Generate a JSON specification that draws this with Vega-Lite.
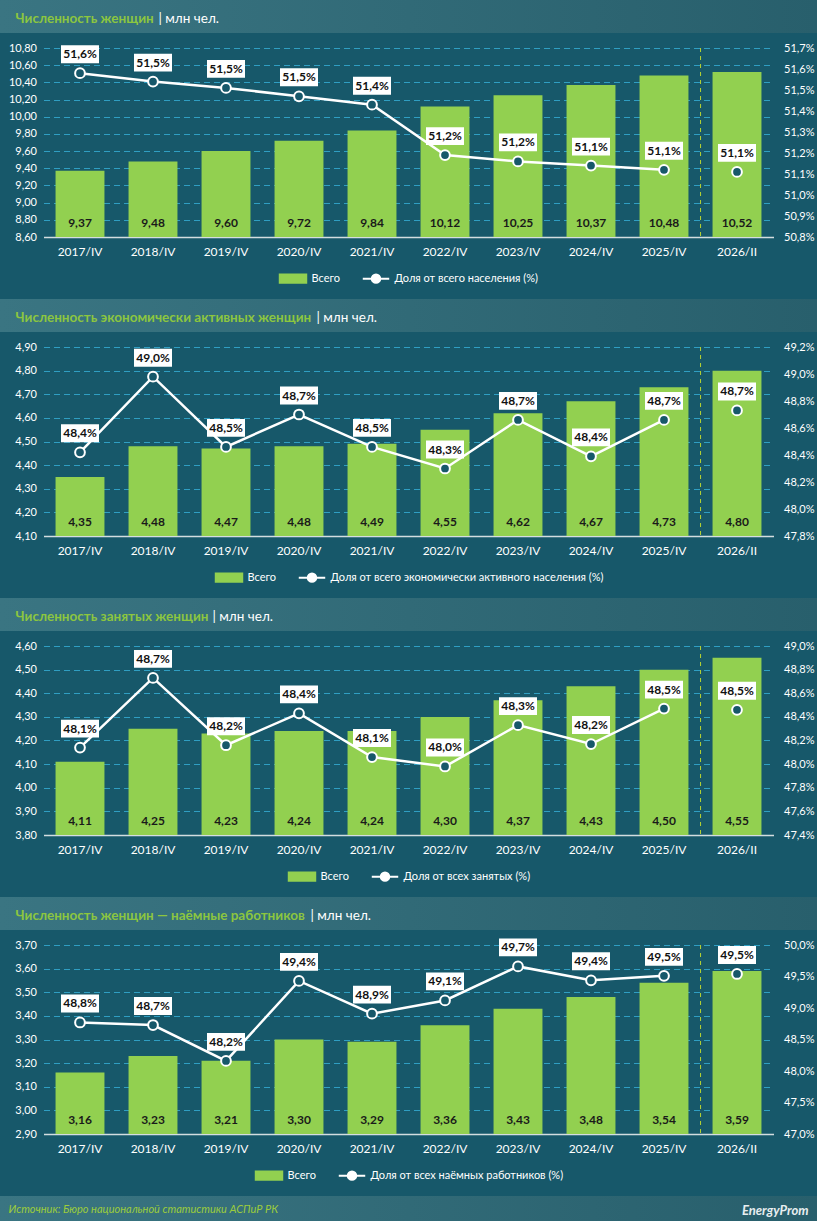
{
  "$schema": "https://vega.github.io/schema/vega-lite/v6.json",
  "background": "#17586a",
  "padding": 0,
  "bounds": "flush",
  "center": true,
  "spacing": 15,
  "datasets": {
    "p1": [
      {"period": "2017/IV", "total": 9.37, "share": 0.5158},
      {"period": "2018/IV", "total": 9.48, "share": 0.5154},
      {"period": "2019/IV", "total": 9.60, "share": 0.5151},
      {"period": "2020/IV", "total": 9.72, "share": 0.5147},
      {"period": "2021/IV", "total": 9.84, "share": 0.5143},
      {"period": "2022/IV", "total": 10.12, "share": 0.5119},
      {"period": "2023/IV", "total": 10.25, "share": 0.5116},
      {"period": "2024/IV", "total": 10.37, "share": 0.5114},
      {"period": "2025/IV", "total": 10.48, "share": 0.5112},
      {"period": "2026/II", "total": 10.52, "share": 0.5111}
    ],
    "p2": [
      {"period": "2017/IV", "total": 4.35, "share": 0.4842},
      {"period": "2018/IV", "total": 4.48, "share": 0.4898},
      {"period": "2019/IV", "total": 4.47, "share": 0.4846},
      {"period": "2020/IV", "total": 4.48, "share": 0.4870},
      {"period": "2021/IV", "total": 4.49, "share": 0.4846},
      {"period": "2022/IV", "total": 4.55, "share": 0.4830},
      {"period": "2023/IV", "total": 4.62, "share": 0.4866},
      {"period": "2024/IV", "total": 4.67, "share": 0.4839},
      {"period": "2025/IV", "total": 4.73, "share": 0.4866},
      {"period": "2026/II", "total": 4.80, "share": 0.4873}
    ],
    "p3": [
      {"period": "2017/IV", "total": 4.11, "share": 0.4814},
      {"period": "2018/IV", "total": 4.25, "share": 0.4873},
      {"period": "2019/IV", "total": 4.23, "share": 0.4816},
      {"period": "2020/IV", "total": 4.24, "share": 0.4843},
      {"period": "2021/IV", "total": 4.24, "share": 0.4806},
      {"period": "2022/IV", "total": 4.30, "share": 0.4798},
      {"period": "2023/IV", "total": 4.37, "share": 0.4833},
      {"period": "2024/IV", "total": 4.43, "share": 0.4817},
      {"period": "2025/IV", "total": 4.50, "share": 0.4847},
      {"period": "2026/II", "total": 4.55, "share": 0.4846}
    ],
    "p4": [
      {"period": "2017/IV", "total": 3.16, "share": 0.4877},
      {"period": "2018/IV", "total": 3.23, "share": 0.4873},
      {"period": "2019/IV", "total": 3.21, "share": 0.4816},
      {"period": "2020/IV", "total": 3.30, "share": 0.4943},
      {"period": "2021/IV", "total": 3.29, "share": 0.4891},
      {"period": "2022/IV", "total": 3.36, "share": 0.4912},
      {"period": "2023/IV", "total": 3.43, "share": 0.4966},
      {"period": "2024/IV", "total": 3.48, "share": 0.4944},
      {"period": "2025/IV", "total": 3.54, "share": 0.4951},
      {"period": "2026/II", "total": 3.59, "share": 0.4954}
    ]
  },
  "vconcat": [
    {
      "width": 817, "height": 33,
      "view": {"fill": {"gradient": "linear", "x1": 0, "x2": 1, "y1": 0, "y2": 0, "stops": [{"offset": 0, "color": "#3a7582"}, {"offset": 1, "color": "#285f6c"}]}, "stroke": null},
      "data": {"values": [{}]},
      "mark": {"type": "text", "text": ""},
      "encoding": {
        "x": {"datum": 0, "type": "quantitative", "scale": {"domain": [-1, 1]}, "axis": {"orient": "top", "title": "| млн чел.", "titleX": 158, "titleY": 22, "titleAlign": "left", "titleBaseline": "alphabetic", "titleColor": "#ffffff", "titleFontSize": 13.5, "titleFontWeight": "normal", "labels": false, "ticks": false, "domain": false, "grid": false}},
        "y": {"datum": 0, "type": "quantitative", "scale": {"domain": [-1, 1]}, "axis": {"orient": "left", "title": "Численность женщин", "titleAngle": 0, "titleX": 15, "titleY": 22, "titleAlign": "left", "titleBaseline": "alphabetic", "titleColor": "#8cc63f", "titleFontSize": 13.5, "titleFontWeight": "bold", "labels": false, "ticks": false, "domain": false, "grid": false}}
      }
    },
    {
      "width": 730, "height": 189,
      "data": {"name": "p1"},
      "encoding": {"x": {"field": "period", "type": "nominal", "sort": null, "scale": {"paddingInner": 0.33, "paddingOuter": 0.165}, "axis": {"title": null, "labelAngle": 0, "ticks": false, "grid": false, "domainColor": "#d3dde0", "domainWidth": 1.5, "labelColor": "#ffffff", "labelFontSize": 12, "labelPadding": 9}}},
      "layer": [
        {
          "layer": [
            {
              "mark": {"type": "bar", "clip": true},
              "encoding": {
                "y": {"field": "total", "type": "quantitative", "scale": {"domain": [8.6, 10.8], "zero": false}, "axis": {"orient": "left", "values": [8.6, 8.8, 9, 9.2, 9.4, 9.6, 9.8, 10, 10.2, 10.4, 10.6, 10.8], "tickCount": 20, "labelOverlap": false, "format": ".2f", "title": null, "domain": false, "ticks": false, "grid": true, "gridColor": "#2f9ec2", "gridDash": [6, 4], "labelColor": "#ffffff", "labelFontSize": 11, "labelPadding": 7}},
                "color": {"datum": "Всего", "type": "nominal", "scale": {"domain": ["Всего", "Доля от всего населения (%)"], "range": ["#92d050", "#ffffff"]},
                  "legend": {"orient": "bottom", "direction": "horizontal", "title": null, "offset": 7, "labelColor": "#ffffff", "labelFontSize": 11, "labelLimit": 600, "symbolSize": 700, "columnPadding": 18, "labelOffset": 4,
                    "encode": {"symbols": {"update": {
                      "shape": {"signal": "datum.value === 'Всего' ? 'M-1,-0.32H1V0.32H-1Z' : 'M-1,0H-0.32M0.32,0H1M0.32,0A0.32,0.32,0,1,1,-0.32,0A0.32,0.32,0,1,1,0.32,0Z'"},
                      "fill": {"signal": "datum.value === 'Всего' ? '#92d050' : '#17586a'"},
                      "stroke": {"signal": "datum.value === 'Всего' ? 'transparent' : '#ffffff'"},
                      "strokeWidth": {"value": 2},
                      "opacity": {"value": 1}}}}}}
              }
            },
            {
              "mark": {"type": "text", "yOffset": -14, "baseline": "middle", "fontWeight": "bold", "fontSize": 12, "color": "#1a1a1a"},
              "encoding": {"y": {"datum": 8.6, "type": "quantitative"}, "text": {"field": "total", "type": "quantitative", "format": ".2f"}}
            },
            {
              "transform": [{"filter": "datum.period === '2026/II'"}],
              "mark": {"type": "rule", "color": "#b8d432", "strokeDash": [4, 4], "strokeWidth": 1},
              "encoding": {"x": {"field": "period", "type": "nominal", "bandPosition": -0.245}}
            }
          ]
        },
        {
          "layer": [
            {
              "transform": [{"filter": "datum.period !== '2026/II'"}],
              "mark": {"type": "line", "strokeWidth": 2.5},
              "encoding": {
                "y": {"field": "share", "type": "quantitative", "scale": {"domain": [0.508, 0.517], "zero": false}, "axis": {"orient": "right", "values": [0.508, 0.509, 0.51, 0.511, 0.512, 0.513, 0.514, 0.515, 0.516, 0.517], "tickCount": 20, "labelOverlap": false, "format": ".1%", "title": null, "domain": false, "ticks": false, "grid": false, "labelColor": "#ffffff", "labelFontSize": 11, "labelPadding": 10}},
                "color": {"datum": "Доля от всего населения (%)", "type": "nominal"}
              }
            },
            {
              "mark": {"type": "point", "filled": false, "fill": "#17586a", "strokeWidth": 2, "size": 95, "opacity": 1},
              "encoding": {"y": {"field": "share", "type": "quantitative"}, "color": {"datum": "Доля от всего населения (%)", "type": "nominal"}}
            },
            {
              "mark": {"type": "point", "shape": "M-1,-0.47H1V0.47H-1Z", "size": 1444, "filled": true, "fill": "#ffffff", "opacity": 1, "yOffset": -19},
              "encoding": {"y": {"field": "share", "type": "quantitative"}}
            },
            {
              "mark": {"type": "text", "yOffset": -19, "baseline": "middle", "fontWeight": "bold", "fontSize": 12, "color": "#111111"},
              "encoding": {"y": {"field": "share", "type": "quantitative"}, "text": {"field": "share", "type": "quantitative", "format": ".1%"}}
            }
          ]
        }
      ],
      "resolve": {"scale": {"y": "independent"}}
    },
    {"width": 817, "height": 32, "data": {"values": [{}]}, "mark": {"type": "text", "text": ""}},
    {
      "width": 817, "height": 33,
      "view": {"fill": {"gradient": "linear", "x1": 0, "x2": 1, "y1": 0, "y2": 0, "stops": [{"offset": 0, "color": "#3a7582"}, {"offset": 1, "color": "#285f6c"}]}, "stroke": null},
      "data": {"values": [{}]},
      "mark": {"type": "text", "text": ""},
      "encoding": {
        "x": {"datum": 0, "type": "quantitative", "scale": {"domain": [-1, 1]}, "axis": {"orient": "top", "title": "| млн чел.", "titleX": 316, "titleY": 22, "titleAlign": "left", "titleBaseline": "alphabetic", "titleColor": "#ffffff", "titleFontSize": 13.5, "titleFontWeight": "normal", "labels": false, "ticks": false, "domain": false, "grid": false}},
        "y": {"datum": 0, "type": "quantitative", "scale": {"domain": [-1, 1]}, "axis": {"orient": "left", "title": "Численность экономически активных женщин", "titleAngle": 0, "titleX": 15, "titleY": 22, "titleAlign": "left", "titleBaseline": "alphabetic", "titleColor": "#8cc63f", "titleFontSize": 13.5, "titleFontWeight": "bold", "labels": false, "ticks": false, "domain": false, "grid": false}}
      }
    },
    {
      "width": 730, "height": 189,
      "data": {"name": "p2"},
      "encoding": {"x": {"field": "period", "type": "nominal", "sort": null, "scale": {"paddingInner": 0.33, "paddingOuter": 0.165}, "axis": {"title": null, "labelAngle": 0, "ticks": false, "grid": false, "domainColor": "#d3dde0", "domainWidth": 1.5, "labelColor": "#ffffff", "labelFontSize": 12, "labelPadding": 9}}},
      "layer": [
        {
          "layer": [
            {
              "mark": {"type": "bar", "clip": true},
              "encoding": {
                "y": {"field": "total", "type": "quantitative", "scale": {"domain": [4.1, 4.9], "zero": false}, "axis": {"orient": "left", "values": [4.1, 4.2, 4.3, 4.4, 4.5, 4.6, 4.7, 4.8, 4.9], "tickCount": 20, "labelOverlap": false, "format": ".2f", "title": null, "domain": false, "ticks": false, "grid": true, "gridColor": "#2f9ec2", "gridDash": [6, 4], "labelColor": "#ffffff", "labelFontSize": 11, "labelPadding": 7}},
                "color": {"datum": "Всего", "type": "nominal", "scale": {"domain": ["Всего", "Доля от всего экономически активного населения (%)"], "range": ["#92d050", "#ffffff"]},
                  "legend": {"orient": "bottom", "direction": "horizontal", "title": null, "offset": 7, "labelColor": "#ffffff", "labelFontSize": 11, "labelLimit": 600, "symbolSize": 700, "columnPadding": 18, "labelOffset": 4,
                    "encode": {"symbols": {"update": {
                      "shape": {"signal": "datum.value === 'Всего' ? 'M-1,-0.32H1V0.32H-1Z' : 'M-1,0H-0.32M0.32,0H1M0.32,0A0.32,0.32,0,1,1,-0.32,0A0.32,0.32,0,1,1,0.32,0Z'"},
                      "fill": {"signal": "datum.value === 'Всего' ? '#92d050' : '#17586a'"},
                      "stroke": {"signal": "datum.value === 'Всего' ? 'transparent' : '#ffffff'"},
                      "strokeWidth": {"value": 2},
                      "opacity": {"value": 1}}}}}}
              }
            },
            {
              "mark": {"type": "text", "yOffset": -14, "baseline": "middle", "fontWeight": "bold", "fontSize": 12, "color": "#1a1a1a"},
              "encoding": {"y": {"datum": 4.1, "type": "quantitative"}, "text": {"field": "total", "type": "quantitative", "format": ".2f"}}
            },
            {
              "transform": [{"filter": "datum.period === '2026/II'"}],
              "mark": {"type": "rule", "color": "#b8d432", "strokeDash": [4, 4], "strokeWidth": 1},
              "encoding": {"x": {"field": "period", "type": "nominal", "bandPosition": -0.245}}
            }
          ]
        },
        {
          "layer": [
            {
              "transform": [{"filter": "datum.period !== '2026/II'"}],
              "mark": {"type": "line", "strokeWidth": 2.5},
              "encoding": {
                "y": {"field": "share", "type": "quantitative", "scale": {"domain": [0.478, 0.492], "zero": false}, "axis": {"orient": "right", "values": [0.478, 0.48, 0.482, 0.484, 0.486, 0.488, 0.49, 0.492], "tickCount": 20, "labelOverlap": false, "format": ".1%", "title": null, "domain": false, "ticks": false, "grid": false, "labelColor": "#ffffff", "labelFontSize": 11, "labelPadding": 10}},
                "color": {"datum": "Доля от всего экономически активного населения (%)", "type": "nominal"}
              }
            },
            {
              "mark": {"type": "point", "filled": false, "fill": "#17586a", "strokeWidth": 2, "size": 95, "opacity": 1},
              "encoding": {"y": {"field": "share", "type": "quantitative"}, "color": {"datum": "Доля от всего экономически активного населения (%)", "type": "nominal"}}
            },
            {
              "mark": {"type": "point", "shape": "M-1,-0.47H1V0.47H-1Z", "size": 1444, "filled": true, "fill": "#ffffff", "opacity": 1, "yOffset": -19},
              "encoding": {"y": {"field": "share", "type": "quantitative"}}
            },
            {
              "mark": {"type": "text", "yOffset": -19, "baseline": "middle", "fontWeight": "bold", "fontSize": 12, "color": "#111111"},
              "encoding": {"y": {"field": "share", "type": "quantitative"}, "text": {"field": "share", "type": "quantitative", "format": ".1%"}}
            }
          ]
        }
      ],
      "resolve": {"scale": {"y": "independent"}}
    },
    {"width": 817, "height": 32, "data": {"values": [{}]}, "mark": {"type": "text", "text": ""}},
    {
      "width": 817, "height": 33,
      "view": {"fill": {"gradient": "linear", "x1": 0, "x2": 1, "y1": 0, "y2": 0, "stops": [{"offset": 0, "color": "#3a7582"}, {"offset": 1, "color": "#285f6c"}]}, "stroke": null},
      "data": {"values": [{}]},
      "mark": {"type": "text", "text": ""},
      "encoding": {
        "x": {"datum": 0, "type": "quantitative", "scale": {"domain": [-1, 1]}, "axis": {"orient": "top", "title": "| млн чел.", "titleX": 212, "titleY": 22, "titleAlign": "left", "titleBaseline": "alphabetic", "titleColor": "#ffffff", "titleFontSize": 13.5, "titleFontWeight": "normal", "labels": false, "ticks": false, "domain": false, "grid": false}},
        "y": {"datum": 0, "type": "quantitative", "scale": {"domain": [-1, 1]}, "axis": {"orient": "left", "title": "Численность занятых женщин", "titleAngle": 0, "titleX": 15, "titleY": 22, "titleAlign": "left", "titleBaseline": "alphabetic", "titleColor": "#8cc63f", "titleFontSize": 13.5, "titleFontWeight": "bold", "labels": false, "ticks": false, "domain": false, "grid": false}}
      }
    },
    {
      "width": 730, "height": 189,
      "data": {"name": "p3"},
      "encoding": {"x": {"field": "period", "type": "nominal", "sort": null, "scale": {"paddingInner": 0.33, "paddingOuter": 0.165}, "axis": {"title": null, "labelAngle": 0, "ticks": false, "grid": false, "domainColor": "#d3dde0", "domainWidth": 1.5, "labelColor": "#ffffff", "labelFontSize": 12, "labelPadding": 9}}},
      "layer": [
        {
          "layer": [
            {
              "mark": {"type": "bar", "clip": true},
              "encoding": {
                "y": {"field": "total", "type": "quantitative", "scale": {"domain": [3.8, 4.6], "zero": false}, "axis": {"orient": "left", "values": [3.8, 3.9, 4, 4.1, 4.2, 4.3, 4.4, 4.5, 4.6], "tickCount": 20, "labelOverlap": false, "format": ".2f", "title": null, "domain": false, "ticks": false, "grid": true, "gridColor": "#2f9ec2", "gridDash": [6, 4], "labelColor": "#ffffff", "labelFontSize": 11, "labelPadding": 7}},
                "color": {"datum": "Всего", "type": "nominal", "scale": {"domain": ["Всего", "Доля от всех занятых (%)"], "range": ["#92d050", "#ffffff"]},
                  "legend": {"orient": "bottom", "direction": "horizontal", "title": null, "offset": 7, "labelColor": "#ffffff", "labelFontSize": 11, "labelLimit": 600, "symbolSize": 700, "columnPadding": 18, "labelOffset": 4,
                    "encode": {"symbols": {"update": {
                      "shape": {"signal": "datum.value === 'Всего' ? 'M-1,-0.32H1V0.32H-1Z' : 'M-1,0H-0.32M0.32,0H1M0.32,0A0.32,0.32,0,1,1,-0.32,0A0.32,0.32,0,1,1,0.32,0Z'"},
                      "fill": {"signal": "datum.value === 'Всего' ? '#92d050' : '#17586a'"},
                      "stroke": {"signal": "datum.value === 'Всего' ? 'transparent' : '#ffffff'"},
                      "strokeWidth": {"value": 2},
                      "opacity": {"value": 1}}}}}}
              }
            },
            {
              "mark": {"type": "text", "yOffset": -14, "baseline": "middle", "fontWeight": "bold", "fontSize": 12, "color": "#1a1a1a"},
              "encoding": {"y": {"datum": 3.8, "type": "quantitative"}, "text": {"field": "total", "type": "quantitative", "format": ".2f"}}
            },
            {
              "transform": [{"filter": "datum.period === '2026/II'"}],
              "mark": {"type": "rule", "color": "#b8d432", "strokeDash": [4, 4], "strokeWidth": 1},
              "encoding": {"x": {"field": "period", "type": "nominal", "bandPosition": -0.245}}
            }
          ]
        },
        {
          "layer": [
            {
              "transform": [{"filter": "datum.period !== '2026/II'"}],
              "mark": {"type": "line", "strokeWidth": 2.5},
              "encoding": {
                "y": {"field": "share", "type": "quantitative", "scale": {"domain": [0.474, 0.49], "zero": false}, "axis": {"orient": "right", "values": [0.474, 0.476, 0.478, 0.48, 0.482, 0.484, 0.486, 0.488, 0.49], "tickCount": 20, "labelOverlap": false, "format": ".1%", "title": null, "domain": false, "ticks": false, "grid": false, "labelColor": "#ffffff", "labelFontSize": 11, "labelPadding": 10}},
                "color": {"datum": "Доля от всех занятых (%)", "type": "nominal"}
              }
            },
            {
              "mark": {"type": "point", "filled": false, "fill": "#17586a", "strokeWidth": 2, "size": 95, "opacity": 1},
              "encoding": {"y": {"field": "share", "type": "quantitative"}, "color": {"datum": "Доля от всех занятых (%)", "type": "nominal"}}
            },
            {
              "mark": {"type": "point", "shape": "M-1,-0.47H1V0.47H-1Z", "size": 1444, "filled": true, "fill": "#ffffff", "opacity": 1, "yOffset": -19},
              "encoding": {"y": {"field": "share", "type": "quantitative"}}
            },
            {
              "mark": {"type": "text", "yOffset": -19, "baseline": "middle", "fontWeight": "bold", "fontSize": 12, "color": "#111111"},
              "encoding": {"y": {"field": "share", "type": "quantitative"}, "text": {"field": "share", "type": "quantitative", "format": ".1%"}}
            }
          ]
        }
      ],
      "resolve": {"scale": {"y": "independent"}}
    },
    {"width": 817, "height": 32, "data": {"values": [{}]}, "mark": {"type": "text", "text": ""}},
    {
      "width": 817, "height": 33,
      "view": {"fill": {"gradient": "linear", "x1": 0, "x2": 1, "y1": 0, "y2": 0, "stops": [{"offset": 0, "color": "#3a7582"}, {"offset": 1, "color": "#285f6c"}]}, "stroke": null},
      "data": {"values": [{}]},
      "mark": {"type": "text", "text": ""},
      "encoding": {
        "x": {"datum": 0, "type": "quantitative", "scale": {"domain": [-1, 1]}, "axis": {"orient": "top", "title": "| млн чел.", "titleX": 310, "titleY": 22, "titleAlign": "left", "titleBaseline": "alphabetic", "titleColor": "#ffffff", "titleFontSize": 13.5, "titleFontWeight": "normal", "labels": false, "ticks": false, "domain": false, "grid": false}},
        "y": {"datum": 0, "type": "quantitative", "scale": {"domain": [-1, 1]}, "axis": {"orient": "left", "title": "Численность женщин — наёмные работников", "titleAngle": 0, "titleX": 15, "titleY": 22, "titleAlign": "left", "titleBaseline": "alphabetic", "titleColor": "#8cc63f", "titleFontSize": 13.5, "titleFontWeight": "bold", "labels": false, "ticks": false, "domain": false, "grid": false}}
      }
    },
    {
      "width": 730, "height": 189,
      "data": {"name": "p4"},
      "encoding": {"x": {"field": "period", "type": "nominal", "sort": null, "scale": {"paddingInner": 0.33, "paddingOuter": 0.165}, "axis": {"title": null, "labelAngle": 0, "ticks": false, "grid": false, "domainColor": "#d3dde0", "domainWidth": 1.5, "labelColor": "#ffffff", "labelFontSize": 12, "labelPadding": 9}}},
      "layer": [
        {
          "layer": [
            {
              "mark": {"type": "bar", "clip": true},
              "encoding": {
                "y": {"field": "total", "type": "quantitative", "scale": {"domain": [2.9, 3.7], "zero": false}, "axis": {"orient": "left", "values": [2.9, 3, 3.1, 3.2, 3.3, 3.4, 3.5, 3.6, 3.7], "tickCount": 20, "labelOverlap": false, "format": ".2f", "title": null, "domain": false, "ticks": false, "grid": true, "gridColor": "#2f9ec2", "gridDash": [6, 4], "labelColor": "#ffffff", "labelFontSize": 11, "labelPadding": 7}},
                "color": {"datum": "Всего", "type": "nominal", "scale": {"domain": ["Всего", "Доля от всех наёмных работников (%)"], "range": ["#92d050", "#ffffff"]},
                  "legend": {"orient": "bottom", "direction": "horizontal", "title": null, "offset": 7, "labelColor": "#ffffff", "labelFontSize": 11, "labelLimit": 600, "symbolSize": 700, "columnPadding": 18, "labelOffset": 4,
                    "encode": {"symbols": {"update": {
                      "shape": {"signal": "datum.value === 'Всего' ? 'M-1,-0.32H1V0.32H-1Z' : 'M-1,0H-0.32M0.32,0H1M0.32,0A0.32,0.32,0,1,1,-0.32,0A0.32,0.32,0,1,1,0.32,0Z'"},
                      "fill": {"signal": "datum.value === 'Всего' ? '#92d050' : '#17586a'"},
                      "stroke": {"signal": "datum.value === 'Всего' ? 'transparent' : '#ffffff'"},
                      "strokeWidth": {"value": 2},
                      "opacity": {"value": 1}}}}}}
              }
            },
            {
              "mark": {"type": "text", "yOffset": -14, "baseline": "middle", "fontWeight": "bold", "fontSize": 12, "color": "#1a1a1a"},
              "encoding": {"y": {"datum": 2.9, "type": "quantitative"}, "text": {"field": "total", "type": "quantitative", "format": ".2f"}}
            },
            {
              "transform": [{"filter": "datum.period === '2026/II'"}],
              "mark": {"type": "rule", "color": "#b8d432", "strokeDash": [4, 4], "strokeWidth": 1},
              "encoding": {"x": {"field": "period", "type": "nominal", "bandPosition": -0.245}}
            }
          ]
        },
        {
          "layer": [
            {
              "transform": [{"filter": "datum.period !== '2026/II'"}],
              "mark": {"type": "line", "strokeWidth": 2.5},
              "encoding": {
                "y": {"field": "share", "type": "quantitative", "scale": {"domain": [0.47, 0.5], "zero": false}, "axis": {"orient": "right", "values": [0.47, 0.475, 0.48, 0.485, 0.49, 0.495, 0.5], "tickCount": 20, "labelOverlap": false, "format": ".1%", "title": null, "domain": false, "ticks": false, "grid": false, "labelColor": "#ffffff", "labelFontSize": 11, "labelPadding": 10}},
                "color": {"datum": "Доля от всех наёмных работников (%)", "type": "nominal"}
              }
            },
            {
              "mark": {"type": "point", "filled": false, "fill": "#17586a", "strokeWidth": 2, "size": 95, "opacity": 1},
              "encoding": {"y": {"field": "share", "type": "quantitative"}, "color": {"datum": "Доля от всех наёмных работников (%)", "type": "nominal"}}
            },
            {
              "mark": {"type": "point", "shape": "M-1,-0.47H1V0.47H-1Z", "size": 1444, "filled": true, "fill": "#ffffff", "opacity": 1, "yOffset": -19},
              "encoding": {"y": {"field": "share", "type": "quantitative"}}
            },
            {
              "mark": {"type": "text", "yOffset": -19, "baseline": "middle", "fontWeight": "bold", "fontSize": 12, "color": "#111111"},
              "encoding": {"y": {"field": "share", "type": "quantitative"}, "text": {"field": "share", "type": "quantitative", "format": ".1%"}}
            }
          ]
        }
      ],
      "resolve": {"scale": {"y": "independent"}}
    },
    {"width": 817, "height": 32, "data": {"values": [{}]}, "mark": {"type": "text", "text": ""}},
    {
      "width": 817, "height": 25,
      "view": {"fill": {"gradient": "linear", "x1": 0, "x2": 1, "y1": 0, "y2": 0, "stops": [{"offset": 0, "color": "#3a7582"}, {"offset": 1, "color": "#285f6c"}]}, "stroke": null},
      "data": {"values": [{}]},
      "mark": {"type": "text", "text": ""},
      "encoding": {
        "x": {"datum": 0, "type": "quantitative", "scale": {"domain": [-1, 1]}, "axis": {"orient": "top", "title": "EnergyProm", "titleX": 808, "titleY": 18, "titleAlign": "right", "titleBaseline": "alphabetic", "titleColor": "#e8eef0", "titleFontSize": 13, "titleFontWeight": "bold", "titleFontStyle": "italic", "labels": false, "ticks": false, "domain": false, "grid": false}},
        "y": {"datum": 0, "type": "quantitative", "scale": {"domain": [-1, 1]}, "axis": {"orient": "left", "title": "Источник: Бюро национальной статистики АСПиР РК", "titleAngle": 0, "titleX": 8, "titleY": 16, "titleAlign": "left", "titleBaseline": "alphabetic", "titleColor": "#9ccc3c", "titleFontSize": 11, "titleFontWeight": "normal", "titleFontStyle": "italic", "labels": false, "ticks": false, "domain": false, "grid": false}}
      }
    }
  ],
  "resolve": {"scale": {"x": "independent", "y": "independent", "color": "independent"}, "legend": {"color": "independent"}},
  "config": {
    "font": "Lato",
    "view": {"stroke": null},
    "locale": {"number": {"decimal": ",", "thousands": " ", "grouping": [3], "currency": ["", ""]}},
    "legend": {"layout": {"bottom": {"anchor": "middle"}}}
  }
}
